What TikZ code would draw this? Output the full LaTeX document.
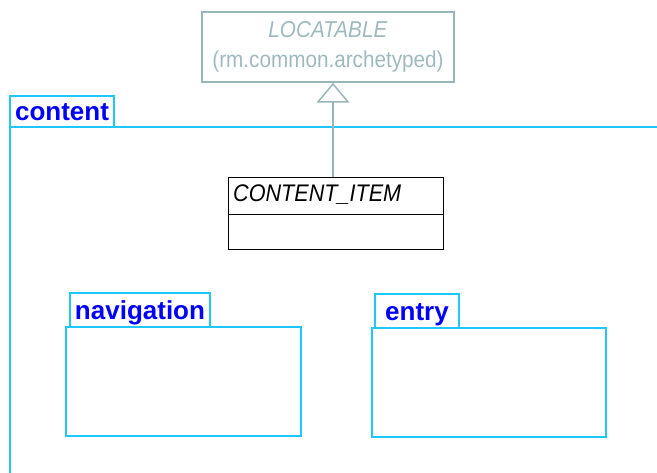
\documentclass[tikz,border=0pt]{standalone}
\usepackage{fontspec}
\setmainfont{Liberation Sans}
\newfontfamily\umlfont[FakeStretch=0.9]{Liberation Sans}
\usetikzlibrary{arrows.meta}
\definecolor{pkgline}{RGB}{30,200,255}
\definecolor{pkgtext}{RGB}{0,0,255}
\definecolor{extline}{RGB}{150,182,186}
\definecolor{exttext}{RGB}{158,186,190}
\tikzset{
  pkgtab/.style={draw=pkgline,line width=2pt,inner sep=0pt,text depth=0pt,text height=19pt,
    font=\fontsize{26}{30}\selectfont\bfseries,text=pkgtext},
  pkgbox/.style={draw=pkgline,line width=2pt,inner sep=0pt},
  classbox/.style={draw=black,line width=1pt,inner sep=0pt},
  extbox/.style={draw=extline,line width=1.5pt,inner sep=0pt,align=center,text=exttext,
    font=\umlfont\fontsize{23}{30}\selectfont},
  gen/.style={draw=extline,line width=1.5pt,-{Triangle[open,length=20pt,width=33pt]}}
}
\begin{document}
\begin{tikzpicture}[x=1pt,y=-1pt,line join=miter]
\useasboundingbox (0,0) rectangle (657,473);
\clip (0,0) rectangle (657,473);
% package content
\node[pkgtab,minimum width=104pt,minimum height=31pt] (contenttab) at (62,111.5) {content};
\draw[pkgline,line width=2pt] (657,127) -- (10,127) -- (10,473);
% external class
\node[extbox,minimum width=252pt,minimum height=70pt] (locatable) at (328,47)
  {\textit{LOCATABLE}\\(rm.common.archetyped)};
% class CONTENT_ITEM
\node[classbox,minimum width=215pt,minimum height=72pt] (contentitem) at (335.5,214) {};
\node[anchor=base west,inner sep=0pt,font=\umlfont\fontsize{24}{28}\selectfont\itshape] (contentitemname)
  at (233,202) {CONTENT\_ITEM};
\draw[black,line width=1pt] (contentitem.west |- 0,215) -- (contentitem.east |- 0,215);
\draw[gen] ([xshift=5pt]locatable.south |- contentitem.north) -- ([xshift=5pt]locatable.south);
% package navigation
\node[pkgtab,minimum width=140pt,minimum height=34pt] (navigationtab) at (140,310) {navigation};
\node[pkgbox,minimum width=235pt,minimum height=109pt] (navigation) at (183.5,381.5) {};
% package entry
\node[pkgtab,minimum width=84pt,minimum height=34pt] (entrytab) at (417,311) {entry};
\node[pkgbox,minimum width=234pt,minimum height=109pt] (entry) at (489,382.5) {};
\end{tikzpicture}
\end{document}
